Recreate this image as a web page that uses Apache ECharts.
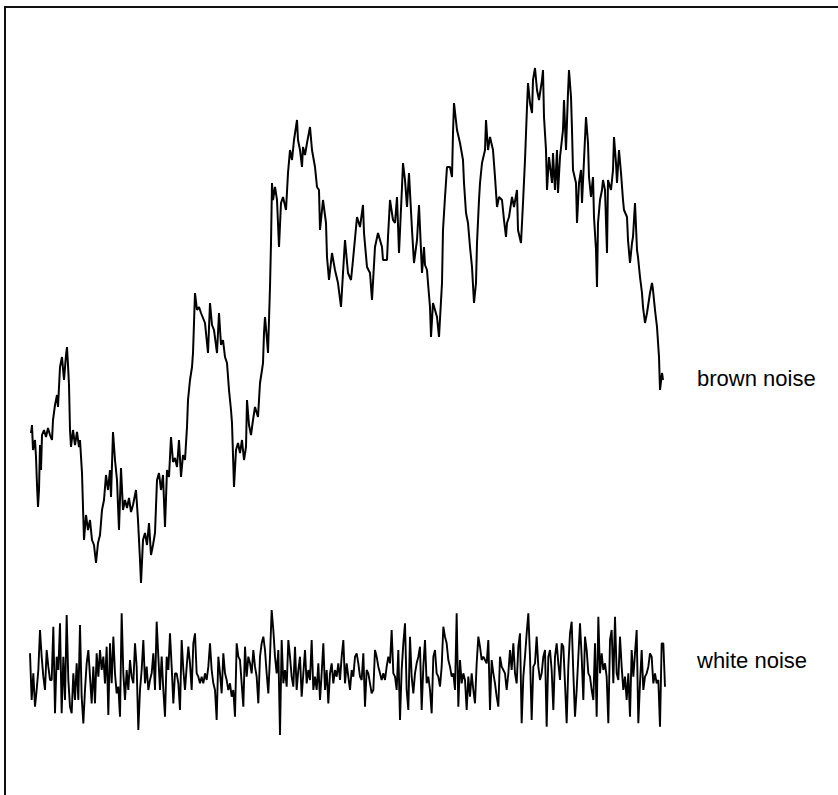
<!DOCTYPE html>
<html>
<head>
<meta charset="utf-8">
<title>brown noise / white noise</title>
<script src="https://cdn.jsdelivr.net/npm/echarts/dist/echarts.min.js"></script>
<style>
  html, body { margin: 0; padding: 0; background: #fff; }
  #chart { width: 838px; height: 795px; }
</style>
</head>
<body>
<div id="chart"></div>
<script>
// Brown (random-walk) noise: [sample time, amplitude]
const brownNoise = [
  [0,1.7],[1,2.5],[2,0.0],[4,1.0],[5,-0.7],[6,-3.5],[7,-5.7],[8,-4.0],[9,0.5],[10,-2.0],[11,1.5],[13,2.0],[15,1.3],[17,2.2],[19,1.5],[21,1.0],[22,3.0],[24,4.5],[26,5.5],[27,4.3],[29,8.3],[31,9.3],[33,7.0],[35,9.5],[36,10.3],[37,8.5],[38,6.5],[39,2.0],[40,0.3],[42,2.0],[44,0.5],[46,1.8],[48,0.3],[49,1.0],[51,-2.3],[52,-5.7],[53,-9.0],[55,-6.5],[57,-8.0],[59,-7.0],[61,-9.0],[63,-9.5],[65,-11.3],[67,-9.3],[69,-8.5],[71,-6.0],[73,-5.0],[75,-2.5],[77,-4.0],[79,-2.0],[80,-4.7],[82,1.8],[84,-1.0],[86,-3.0],[88,-8.0],[90,-1.8],[92,-6.0],[94,-5.0],[96,-5.8],[98,-4.8],[100,-6.2],[102,-5.5],[105,-4.0],[107,-7.0],[109,-11.0],[110,-13.3],[112,-9.0],[114,-8.3],[116,-9.5],[118,-7.3],[120,-10.5],[122,-9.5],[124,-8.3],[126,-3.0],[128,-2.3],[130,-4.0],[132,-2.5],[134,-7.7],[136,-2.0],[138,-2.7],[140,1.3],[142,-1.2],[144,-0.8],[146,-1.7],[148,1.0],[150,-2.7],[152,-0.5],[154,-1.0],[156,2.3],[157,5.0],[159,7.0],[161,8.3],[162,9.7],[164,15.7],[166,14.0],[168,14.3],[170,13.7],[172,13.2],[174,12.7],[177,9.7],[179,14.7],[181,12.5],[183,12.0],[186,9.7],[188,13.7],[190,10.5],[192,11.0],[194,9.3],[196,8.7],[198,6.0],[200,4.0],[201,2.7],[203,-3.7],[205,0.0],[207,0.7],[209,-0.3],[211,1.0],[213,-1.0],[215,0.3],[216,5.0],[218,2.5],[220,1.5],[222,3.0],[224,4.3],[227,3.3],[229,6.7],[231,8.0],[232,8.7],[233,11.7],[234,13.3],[236,11.0],[237,9.7],[239,16.3],[240,20.7],[241,26.7],[242,25.0],[244,26.3],[246,25.0],[248,20.3],[250,24.7],[252,25.3],[255,24.0],[257,27.7],[259,30.0],[261,29.0],[263,31.0],[266,33.0],[267,31.0],[269,30.0],[271,28.3],[272,30.3],[274,29.5],[276,30.7],[279,32.3],[281,30.0],[284,28.3],[286,26.3],[288,26.0],[289,22.0],[292,25.0],[295,22.7],[296,19.3],[298,17.0],[301,19.7],[304,18.0],[307,16.7],[310,14.3],[312,17.7],[314,21.0],[317,17.7],[320,17.0],[322,19.0],[326,23.3],[329,22.3],[332,24.5],[333,21.7],[336,18.3],[339,17.7],[341,15.0],[344,20.3],[347,21.7],[351,20.3],[352,19.0],[356,19.0],[357,21.3],[359,25.0],[362,23.0],[364,22.7],[366,25.3],[368,19.7],[371,26.3],[372,28.7],[374,27.0],[376,24.3],[378,27.7],[381,22.0],[383,18.7],[386,21.0],[388,24.5],[391,17.7],[393,20.3],[394,18.5],[396,18.0],[397,16.7],[399,14.3],[400,11.3],[402,14.7],[404,14.0],[406,13.3],[408,11.3],[411,16.7],[412,22.0],[414,25.3],[416,28.3],[419,28.3],[421,27.3],[422,31.7],[423,34.7],[426,32.0],[429,30.7],[432,29.0],[433,26.7],[435,23.7],[437,22.7],[439,20.3],[441,18.3],[443,14.7],[445,16.7],[446,20.7],[448,25.0],[449,26.7],[451,28.7],[454,30.0],[455,33.0],[457,30.0],[459,31.3],[462,30.0],[464,27.3],[466,24.3],[468,25.3],[471,25.0],[473,23.0],[475,21.3],[476,22.7],[478,23.3],[481,25.3],[483,24.3],[486,26.0],[487,22.0],[490,20.7],[492,24.7],[494,29.0],[496,34.3],[497,36.7],[499,34.7],[501,33.7],[502,37.0],[504,38.2],[506,36.0],[508,35.0],[511,37.0],[512,38.0],[513,33.3],[515,30.0],[516,26.0],[518,29.3],[521,26.7],[522,29.7],[524,26.0],[526,30.0],[527,25.7],[529,29.3],[532,32.0],[533,35.0],[535,30.0],[537,35.7],[538,38.0],[540,35.3],[541,32.0],[542,28.0],[545,26.7],[546,22.7],[548,26.7],[550,28.0],[551,24.7],[553,29.0],[555,33.3],[557,30.7],[558,27.3],[560,25.3],[562,27.3],[563,23.3],[565,20.0],[566,16.3],[567,22.7],[569,25.0],[571,26.0],[572,27.0],[574,26.0],[576,19.7],[577,27.0],[580,26.0],[582,28.0],[583,31.3],[585,28.7],[586,26.7],[588,30.0],[590,27.7],[592,25.0],[593,24.0],[596,23.3],[597,21.0],[599,18.7],[601,20.7],[602,21.3],[604,24.7],[606,20.0],[607,19.3],[609,17.3],[611,15.7],[612,14.3],[614,12.7],[616,13.7],[619,15.7],[621,16.7],[622,16.0],[624,14.0],[626,12.3],[628,9.3],[629,6.0],[631,7.7],[632,7.0]
];

// White noise: equally spaced samples
const whiteNoise = [
  20,-120,-40,-140,-90,-30,90,10,-50,-90,
  30,-20,-60,-60,100,-160,10,-30,110,-160,
  10,-120,135,-60,-140,-160,-40,-120,-10,-120,
  105,-110,-190,-90,-10,30,-50,-130,-20,-130,
  20,-50,30,-30,10,-70,40,-165,50,-70,
  70,-40,-100,-80,-170,140,-40,-120,-30,-90,
  0,-50,-70,50,-20,-210,-90,-30,60,-70,
  -20,-90,-60,-40,20,-90,115,10,-90,10,
  -90,-170,10,-30,80,-20,-130,-40,-40,-70,
  -150,60,-30,-90,-20,40,-10,-90,50,80,
  -40,-50,-70,-50,-70,-40,-60,-20,50,-30,
  -70,-90,-180,10,-40,-100,20,-40,-60,-90,
  -70,-110,-90,-170,50,10,
  0,-70,-140,40,-50,10,-10,-40,30,-20,
  -50,-130,10,50,70,30,-40,-100,10,150,
  90,10,-40,30,-225,60,-70,-30,-80,60,
  10,-50,-80,40,-90,-30,10,-110,-40,30,
  -70,-30,-60,60,-90,-50,-90,-10,-120,-40,
  50,-90,-30,-130,-40,-10,-70,-30,-50,-10,
  -60,10,60,-70,-10,-50,-90,-30,-50,10,
  20,-10,-50,-60,20,-140,-30,-40,-70,-100,
  -90,30,10,-20,-40,-60,-40,-60,-20,10,
  -10,90,-40,-50,-90,30,-180,-30,50,110,
  -90,-150,70,-50,-100,-40,-10,10,40,-150,
  -20,60,-70,-50,-90,-160,10,30,-40,-50,
  -80,-20,100,70,50,0,
  -20,-50,-40,-90,140,-140,0,-70,-40,-60,
  -150,-50,-110,-40,-90,-130,-10,70,40,0,
  10,0,-10,60,-150,0,-40,-70,-110,-140,
  10,-20,-30,-40,-90,-40,30,-30,50,-40,
  -70,40,80,-190,-50,10,80,140,10,-180,
  -20,-10,70,-20,-60,-40,10,30,-200,10,
  30,-30,-150,10,50,-10,-60,50,40,-70,
  -190,-20,80,115,-40,-170,-90,10,110,10,
  -120,70,30,-40,-50,-90,-120,50,-170,130,
  -40,20,-30,-10,-50,-190,60,90,-70,130,
  -40,-60,70,-20,-90,-50,-120,-40,-170,30,
  -50,20,90,-190,-70,30,-90,-50,-40,-20,
  20,10,-70,-40,-70,-60,-200,50,50,-80
];

const seriesLabels = ['brown noise', 'white noise'];

const chart = echarts.init(document.getElementById('chart'), null, { renderer: 'svg' });

const hiddenAxis = { show: false, splitLine: { show: false } };

chart.setOption({
  backgroundColor: '#ffffff',
  animation: false,
  grid: [
    { left: 31, top: 60, width: 632, height: 540 },
    { left: 30, top: 600, width: 635, height: 140 }
  ],
  xAxis: [
    Object.assign({ type: 'value', gridIndex: 0, min: 0, max: 632 }, hiddenAxis),
    Object.assign({ type: 'category', gridIndex: 1, boundaryGap: false,
      data: whiteNoise.map((_, i) => i) }, hiddenAxis)
  ],
  yAxis: [
    Object.assign({ type: 'value', gridIndex: 0, min: -15, max: 39 }, hiddenAxis),
    Object.assign({ type: 'value', gridIndex: 1, min: -240, max: 180 }, hiddenAxis)
  ],
  series: [
    {
      name: seriesLabels[0], type: 'line', xAxisIndex: 0, yAxisIndex: 0,
      data: brownNoise, showSymbol: false, sampling: null,
      lineStyle: { color: '#000', width: 2 }
    },
    {
      name: seriesLabels[1], type: 'line', xAxisIndex: 1, yAxisIndex: 1,
      data: whiteNoise, showSymbol: false,
      lineStyle: { color: '#000', width: 1.9 }
    }
  ],
  graphic: [
    // frame: top and left rules
    { type: 'line', shape: { x1: 4, y1: 7, x2: 838, y2: 7 }, style: { stroke: '#111', lineWidth: 2 } },
    { type: 'line', shape: { x1: 5, y1: 6, x2: 5, y2: 795 }, style: { stroke: '#111', lineWidth: 2 } },
    { type: 'text', left: 697, top: 367,
      style: { text: seriesLabels[0], fill: '#000', font: '22px "Liberation Sans", Arial, sans-serif' } },
    { type: 'text', left: 697, top: 649,
      style: { text: seriesLabels[1], fill: '#000', font: '22px "Liberation Sans", Arial, sans-serif' } }
  ]
});
</script>
</body>
</html>
